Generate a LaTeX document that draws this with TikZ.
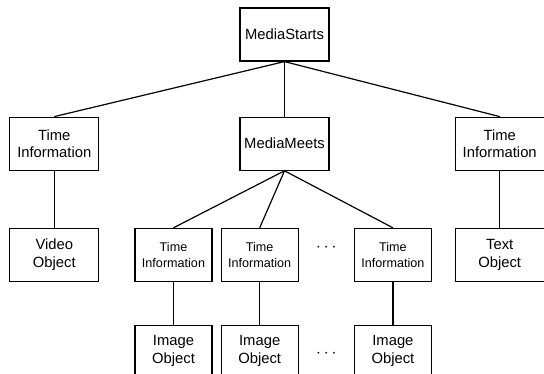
\documentclass[tikz,border=0pt]{standalone}
\usepackage{fontspec}
\setmainfont{Liberation Sans}
\usepackage{tikz}
\usetikzlibrary{positioning, calc}

\begin{document}
\begin{tikzpicture}[
    x=1pt, y=1pt,
    box/.style={rectangle, draw=black, line width=1.2pt, fill=white, align=center,
                minimum width=89pt, minimum height=53pt, inner sep=1pt,
                font=\fontsize{14.8}{17.5}\selectfont},
    smallbox/.style={box, minimum width=77pt, font=\fontsize{12.6}{16.5}\selectfont},
    imgbox/.style={box, minimum width=77pt, minimum height=51pt},
    link/.style={line width=1.2pt, color=black},
    dots/.style={font=\fontsize{16}{16}\selectfont}
]
\useasboundingbox (0,0) rectangle (544,-374);

\node[box] (starts) at (284.5,-34.5) {MediaStarts};
\node[box, below=55pt of starts]  (meets) {MediaMeets};
\node[box, left=140pt of meets]   (infoL) {Time\\Information};
\node[box, right=125pt of meets]  (infoR) {Time\\Information};
\node[box, below=57pt of infoL]   (video) {Video\\Object};
\node[box, below=57pt of infoR]   (text)  {Text\\Object};

% time information under MediaMeets
\node[smallbox, right=35pt of video] (infoA) {Time\\Information};
\node[smallbox, right=8pt of infoA]  (infoB) {Time\\Information};
\node[smallbox, right=55pt of infoB] (infoC) {Time\\Information};

\node[imgbox, below=43pt of infoA] (imgA) {Image\\Object};
\node[imgbox, below=43pt of infoB] (imgB) {Image\\Object};
\node[imgbox, below=43pt of infoC] (imgC) {Image\\Object};

\node[dots, yshift=7pt]  (dotsT) at ($(infoB.east)!0.5!(infoC.west)$) {\textbf{$\cdots$}};
\node[dots, yshift=-3pt] (dotsI) at ($(imgB.east)!0.5!(imgC.west)$)  {\textbf{$\cdots$}};

\draw[link] (starts.south) -- (infoL.north);
\draw[link] (starts.south) -- (meets.north);
\draw[link] (starts.south) -- (infoR.north);
\draw[link] (infoL) -- (video);
\draw[link] (infoR) -- (text);
\draw[link] (meets.south) -- (infoA.north);
\draw[link] (meets.south) -- (infoB.north);
\draw[link] (meets.south) -- (infoC.north);
\draw[link] (infoA) -- (imgA);
\draw[link] (infoB) -- (imgB);
\draw[link] (infoC) -- (imgC);
\end{tikzpicture}
\end{document}
